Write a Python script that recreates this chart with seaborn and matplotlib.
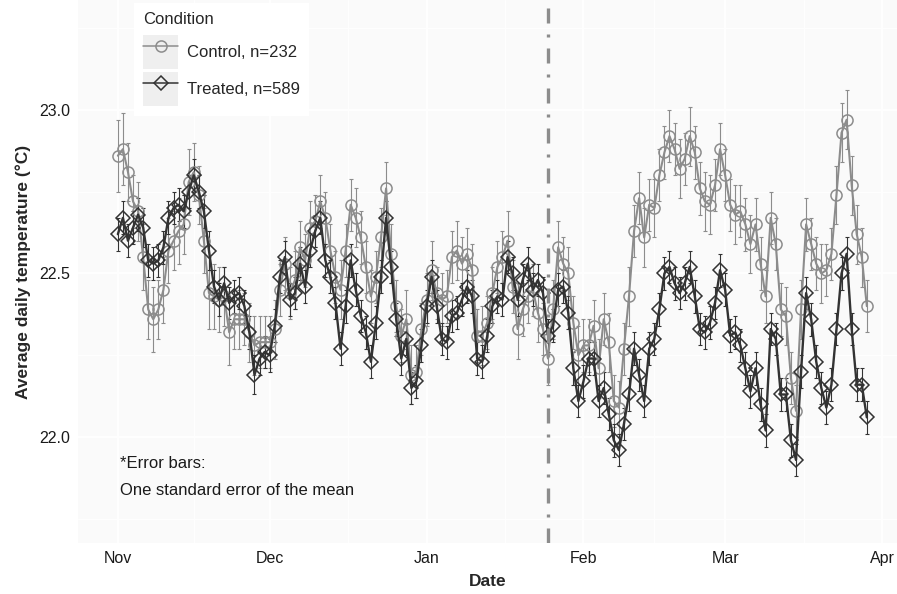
import numpy as np
import pandas as pd
import matplotlib
matplotlib.use("Agg")
import matplotlib.pyplot as plt
import matplotlib.dates as mdates
from matplotlib.ticker import FixedLocator
from matplotlib.lines import Line2D
from matplotlib.patches import Rectangle
from matplotlib.legend_handler import HandlerLine2D
import seaborn as sns

# ---------------- data ----------------
start_date = "2014-11-01"

control_mean = [
    22.86, 22.88, 22.81, 22.72, 22.69, 22.55, 22.39, 22.36, 22.39, 22.45,
    22.57, 22.60, 22.63, 22.65, 22.78, 22.81, 22.74, 22.60, 22.44, 22.43,
    22.42, 22.43, 22.32, 22.36, 22.36, 22.36, 22.32, 22.28, 22.29, 22.29,
    22.29, 22.33, 22.45, 22.53, 22.44, 22.48, 22.58, 22.54, 22.64, 22.66,
    22.72, 22.67, 22.57, 22.49, 22.45, 22.57, 22.71, 22.67, 22.61, 22.52,
    22.43, 22.49, 22.61, 22.76, 22.56, 22.40, 22.31, 22.36, 22.19, 22.20,
    22.33, 22.42, 22.51, 22.44, 22.42, 22.43, 22.55, 22.57, 22.53, 22.56,
    22.51, 22.31, 22.31, 22.35, 22.44, 22.52, 22.55, 22.60, 22.46, 22.33,
    22.39, 22.43, 22.45, 22.38, 22.33, 22.24, 22.39, 22.58, 22.53, 22.50,
    22.35, 22.25, 22.28, 22.28, 22.34, 22.21, 22.36, 22.29, 22.11, 22.09,
    22.27, 22.43, 22.63, 22.73, 22.61, 22.71, 22.70, 22.80, 22.87, 22.92,
    22.88, 22.82, 22.85, 22.92, 22.87, 22.76, 22.72, 22.71, 22.77, 22.88,
    22.80, 22.71, 22.68, 22.69, 22.65, 22.59, 22.65, 22.53, 22.43, 22.67,
    22.59, 22.39, 22.37, 22.18, 22.08, 22.39, 22.65, 22.59, 22.53, 22.50,
    22.51, 22.56, 22.74, 22.93, 22.97, 22.77, 22.62, 22.55, 22.40,
]

treated_mean = [
    22.62, 22.67, 22.60, 22.64, 22.68, 22.64, 22.54, 22.53, 22.54, 22.58,
    22.67, 22.70, 22.71, 22.69, 22.75, 22.80, 22.75, 22.69, 22.57, 22.46,
    22.42, 22.47, 22.41, 22.43, 22.44, 22.40, 22.32, 22.19, 22.24, 22.26,
    22.25, 22.34, 22.49, 22.55, 22.42, 22.44, 22.53, 22.46, 22.57, 22.63,
    22.67, 22.54, 22.49, 22.41, 22.27, 22.40, 22.54, 22.45, 22.37, 22.32,
    22.23, 22.35, 22.49, 22.67, 22.52, 22.36, 22.24, 22.30, 22.15, 22.17,
    22.28, 22.40, 22.49, 22.40, 22.30, 22.29, 22.37, 22.38, 22.42, 22.46,
    22.43, 22.24, 22.23, 22.31, 22.40, 22.43, 22.42, 22.55, 22.50, 22.42,
    22.48, 22.53, 22.45, 22.48, 22.44, 22.31, 22.34, 22.45, 22.46, 22.38,
    22.21, 22.11, 22.17, 22.24, 22.24, 22.11, 22.15, 22.07, 21.99, 21.96,
    22.04, 22.13, 22.27, 22.19, 22.11, 22.27, 22.30, 22.39, 22.50, 22.52,
    22.47, 22.44, 22.47, 22.52, 22.43, 22.33, 22.32, 22.35, 22.41, 22.51,
    22.45, 22.31, 22.32, 22.28, 22.21, 22.14, 22.21, 22.10, 22.02, 22.33,
    22.30, 22.13, 22.13, 21.99, 21.93, 22.20, 22.44, 22.36, 22.23, 22.15,
    22.09, 22.16, 22.33, 22.50, 22.56, 22.33, 22.16, 22.16, 22.06,
]

control_se = [
    0.11, 0.11, 0.09, 0.08, 0.09, 0.10, 0.09, 0.10, 0.09, 0.10,
    0.10, 0.09, 0.10, 0.09, 0.10, 0.09, 0.09, 0.10, 0.11, 0.10,
    0.10, 0.09, 0.10, 0.09, 0.09, 0.08, 0.09, 0.09, 0.08, 0.08,
    0.08, 0.09, 0.08, 0.08, 0.08, 0.09, 0.08, 0.08, 0.08, 0.08,
    0.08, 0.08, 0.08, 0.08, 0.09, 0.08, 0.08, 0.09, 0.08, 0.08,
    0.08, 0.08, 0.09, 0.08, 0.09, 0.08, 0.08, 0.09, 0.09, 0.08,
    0.08, 0.08, 0.09, 0.08, 0.08, 0.08, 0.08, 0.09, 0.08, 0.08,
    0.08, 0.08, 0.09, 0.08, 0.08, 0.08, 0.08, 0.09, 0.08, 0.09,
    0.08, 0.08, 0.08, 0.09, 0.08, 0.08, 0.09, 0.08, 0.08, 0.08,
    0.08, 0.09, 0.08, 0.08, 0.08, 0.09, 0.08, 0.09, 0.08, 0.08,
    0.08, 0.09, 0.08, 0.08, 0.09, 0.08, 0.09, 0.08, 0.08, 0.08,
    0.08, 0.09, 0.08, 0.09, 0.08, 0.08, 0.09, 0.09, 0.08, 0.08,
    0.08, 0.08, 0.09, 0.08, 0.08, 0.09, 0.08, 0.08, 0.08, 0.08,
    0.08, 0.08, 0.09, 0.08, 0.08, 0.09, 0.08, 0.08, 0.08, 0.09,
    0.08, 0.08, 0.09, 0.09, 0.09, 0.09, 0.09, 0.09, 0.08,
]

treated_se = [
    0.05, 0.05, 0.05, 0.05, 0.05, 0.06, 0.05, 0.05, 0.05, 0.05,
    0.05, 0.05, 0.05, 0.05, 0.05, 0.05, 0.05, 0.05, 0.06, 0.05,
    0.05, 0.05, 0.05, 0.05, 0.05, 0.05, 0.05, 0.06, 0.05, 0.05,
    0.05, 0.05, 0.05, 0.05, 0.05, 0.05, 0.05, 0.05, 0.05, 0.05,
    0.05, 0.05, 0.05, 0.05, 0.05, 0.05, 0.05, 0.05, 0.05, 0.05,
    0.05, 0.05, 0.05, 0.05, 0.05, 0.05, 0.05, 0.05, 0.05, 0.05,
    0.05, 0.05, 0.05, 0.05, 0.05, 0.05, 0.05, 0.05, 0.05, 0.05,
    0.05, 0.05, 0.05, 0.05, 0.05, 0.05, 0.05, 0.05, 0.05, 0.05,
    0.05, 0.05, 0.05, 0.05, 0.05, 0.05, 0.05, 0.05, 0.05, 0.05,
    0.05, 0.05, 0.05, 0.05, 0.05, 0.05, 0.05, 0.05, 0.05, 0.05,
    0.05, 0.05, 0.05, 0.05, 0.05, 0.05, 0.05, 0.05, 0.05, 0.05,
    0.05, 0.05, 0.05, 0.05, 0.05, 0.05, 0.05, 0.05, 0.05, 0.05,
    0.05, 0.05, 0.05, 0.05, 0.05, 0.05, 0.05, 0.05, 0.05, 0.05,
    0.05, 0.05, 0.05, 0.05, 0.05, 0.05, 0.05, 0.05, 0.05, 0.05,
    0.05, 0.05, 0.05, 0.05, 0.05, 0.05, 0.05, 0.05, 0.05,
]

series_labels = ["Control, n=232", "Treated, n=589"]
series_colors = ["#8C8C8C", "#333333"]
series_markers = ["o", "D"]
legend_title = "Condition"

month_ticks = ["2014-11-01", "2014-12-01", "2015-01-01",
               "2015-02-01", "2015-03-01", "2015-04-01"]
month_labels = ["Nov", "Dec", "Jan", "Feb", "Mar", "Apr"]
y_ticks = [22.0, 22.5, 23.0]
y_tick_labels = ["22.0", "22.5", "23.0"]
intervention_date = "2015-01-25"
note_lines = ["*Error bars:", "One standard error of the mean"]
x_title = "Date"
y_title = "Average daily temperature (\u00b0C)"

# ---------------- table ----------------
dates = pd.date_range(start_date, periods=len(control_mean), freq="D")
df = pd.concat([
    pd.DataFrame({"Date": dates, "Temp": control_mean, "SE": control_se,
                  "Condition": series_labels[0]}),
    pd.DataFrame({"Date": dates, "Temp": treated_mean, "SE": treated_se,
                  "Condition": series_labels[1]}),
], ignore_index=True)

# ---------------- style ----------------
sns.set_style("white")
plt.rcParams["font.family"] = ["Liberation Sans", "DejaVu Sans"]
plt.rcParams["axes.unicode_minus"] = False

fig = plt.figure(figsize=(8.97, 5.94), dpi=100)
ax = fig.add_axes([78 / 897, 51 / 594, 819 / 897, 543 / 594])
ax.set_facecolor("#FAFAFA")
for s in ax.spines.values():
    s.set_visible(False)

palette = dict(zip(series_labels, series_colors))
markers = dict(zip(series_labels, series_markers))

n0 = len(ax.lines)
sns.lineplot(data=df, x="Date", y="Temp", hue="Condition", style="Condition",
             hue_order=series_labels, style_order=series_labels,
             palette=palette, markers=markers, dashes=False,
             estimator=None, errorbar=None, sort=True, legend=False, ax=ax)
data_lines = ax.lines[n0:]
line_widths = [1.5, 1.7]
marker_sizes = [8.0, 7.6]
for ln, col, lw, ms in zip(data_lines, series_colors, line_widths, marker_sizes):
    ln.set_color(col)
    ln.set_linewidth(lw)
    ln.set_markerfacecolor("none")
    ln.set_markeredgecolor(col)
    ln.set_markeredgewidth(1.1)
    ln.set_markersize(ms)
    ln.set_zorder(3)

for lab, col in zip(series_labels, series_colors):
    sub = df[df["Condition"] == lab]
    ax.errorbar(sub["Date"], sub["Temp"], yerr=sub["SE"], fmt="none",
                ecolor=col, elinewidth=0.8, capsize=1.3, capthick=0.8,
                zorder=2)

ax.axvline(pd.Timestamp(intervention_date), color="#8C8C8C", lw=2.4,
           linestyle=(0, (4.5, 3.3, 0.9, 3.3)), zorder=5)

# notes
note_x = pd.Timestamp(start_date) + pd.Timedelta(hours=9)
ax.text(note_x, 21.92, note_lines[0], ha="left", va="center",
        fontsize=12, color="#1a1a1a")
ax.text(note_x, 21.835, note_lines[1], ha="left", va="center",
        fontsize=12, color="#1a1a1a")

# axes limits / ticks
ax.set_xlim(pd.Timestamp("2014-10-24 03:00"), pd.Timestamp("2015-04-03 23:00"))
ax.set_ylim(21.676, 23.336)
tick_dates = pd.to_datetime(month_ticks)
ax.set_xticks(tick_dates)
ax.set_xticklabels(month_labels)
mids = [mdates.date2num(a) + (mdates.date2num(b) - mdates.date2num(a)) / 2
        for a, b in zip(tick_dates[:-1], tick_dates[1:])]
first = mdates.date2num(tick_dates[0]) - 15.5
ax.xaxis.set_minor_locator(FixedLocator([first] + mids))
ax.set_yticks(y_ticks)
ax.set_yticklabels(y_tick_labels)
ax.yaxis.set_minor_locator(FixedLocator([21.75, 22.25, 22.75, 23.25]))
ax.tick_params(axis="both", which="major", length=3.2, width=0.9,
               color="#333333", labelsize=11.5, labelcolor="#1a1a1a", pad=2.5)
ax.tick_params(axis="both", which="minor", length=0)
ax.grid(True, which="major", color="white", lw=1.2)
ax.grid(True, which="minor", color="white", lw=0.6)
ax.set_axisbelow(True)

ax.set_xlabel(x_title, fontsize=12.5, fontweight="bold", labelpad=6)
ax.set_ylabel(y_title, fontsize=12.5, fontweight="bold", labelpad=6)


# legend with grey key boxes (ggplot style)
class BoxHandler(HandlerLine2D):
    def create_artists(self, legend, orig_handle, xdescent, ydescent,
                       width, height, fontsize, trans):
        arts = super().create_artists(legend, orig_handle, xdescent, ydescent,
                                      width, height, fontsize, trans)
        box = Rectangle((-xdescent, -ydescent), width, height,
                        facecolor="#EFEFEF", edgecolor="none", transform=trans)
        return [box] + list(arts)


handles = [Line2D([], [], color=c, lw=1.1, marker=m, mfc="none", mec=c,
                  mew=1.1, ms=ms)
           for c, m, ms in zip(series_colors, series_markers, [8.0, 7.6])]
leg = ax.legend(handles, series_labels, title=legend_title,
                loc="upper left", bbox_to_anchor=(0.0683, 0.9945),
                borderaxespad=0, frameon=True, facecolor="white",
                edgecolor="none", framealpha=1, fancybox=False,
                fontsize=12, title_fontsize=12, handlelength=2.1,
                handleheight=2.76, labelspacing=0.18, handletextpad=0.55,
                borderpad=0.55, alignment="left",
                handler_map={Line2D: BoxHandler(numpoints=1)})
leg._legend_box.sep = 6
leg.set_zorder(6)

fig.savefig("out.png", dpi=100, facecolor="white")
